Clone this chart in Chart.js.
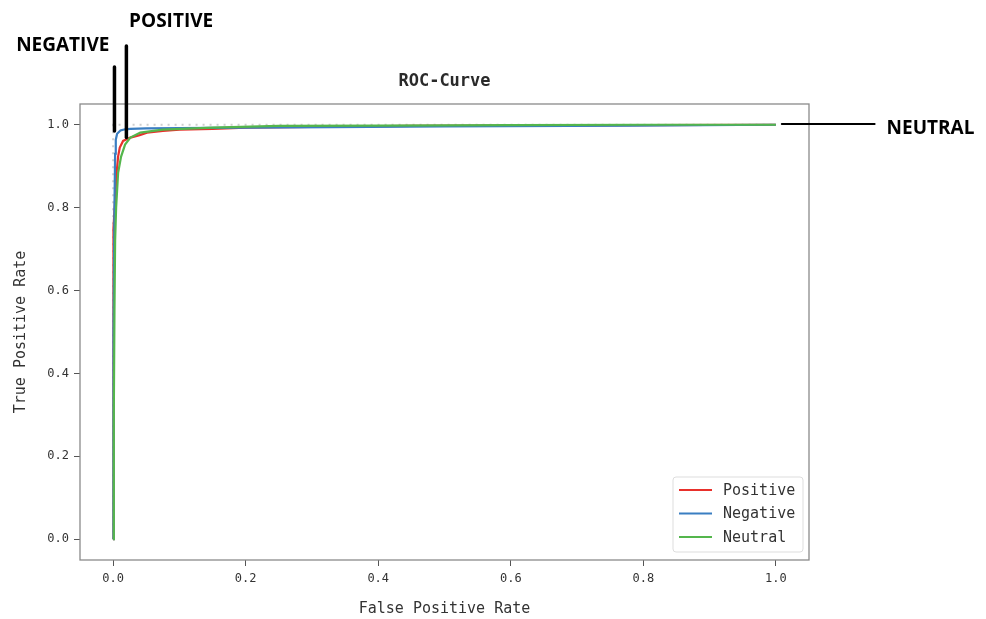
<!DOCTYPE html>
<html>
<head>
<meta charset="utf-8">
<script src="https://cdn.jsdelivr.net/npm/chart.js@4.4.1/dist/chart.umd.min.js"></script>
<style>
html,body{margin:0;padding:0;background:#fff;}
canvas{display:block;}
</style>
</head>
<body>
<canvas id="c" width="986" height="619"></canvas>
<script>
// ---- data ----
const seriesNames = ['Positive', 'Negative', 'Neutral'];
const seriesColors = ['#e8302b', '#3a7ec2', '#54b64c'];

const fprPositive = [0, 0, 0.001, 0.003, 0.005, 0.0075, 0.01, 0.015, 0.026, 0.04, 0.051, 0.075, 0.10, 0.15, 0.2, 0.3, 0.45, 0.6, 0.8, 1.0];
const tprPositive = [0, 0.5, 0.75, 0.82, 0.88, 0.923, 0.945, 0.961, 0.969, 0.975, 0.981, 0.985, 0.988, 0.990, 0.993, 0.995, 0.997, 0.998, 0.999, 1.0];

const fprNegative = [0, 0, 0.001, 0.002, 0.003, 0.004, 0.006, 0.011, 0.018, 0.026, 0.05, 0.1, 0.2, 0.33, 0.5, 0.78, 1.0];
const tprNegative = [0, 0.22, 0.5, 0.8, 0.93, 0.964, 0.978, 0.986, 0.989, 0.990, 0.991, 0.992, 0.993, 0.994, 0.996, 0.998, 1.0];

const fprNeutral = [0, 0.001, 0.002, 0.003, 0.0045, 0.0075, 0.012, 0.018, 0.026, 0.041, 0.075, 0.15, 0.25, 0.4, 0.6, 0.8, 1.0];
const tprNeutral = [0, 0.3, 0.55, 0.72, 0.80, 0.884, 0.923, 0.952, 0.969, 0.981, 0.988, 0.993, 0.997, 0.998, 0.999, 1.0, 1.0];

const fprReference = [0, 0, 1];
const tprReference = [0, 1, 1];

const xTicks = [0.0, 0.2, 0.4, 0.6, 0.8, 1.0];
const yTicks = [0.0, 0.2, 0.4, 0.6, 0.8, 1.0];

const chartTitle = 'ROC-Curve';
const xTitle = 'False Positive Rate';
const yTitle = 'True Positive Rate';

// annotation labels (data coordinates)
const annotLabels = ['NEGATIVE', 'POSITIVE', 'NEUTRAL'];
const annotLabelX = [-0.076, 0.0875, 1.167];
const annotLabelY = [1.19, 1.248, 0.991];
const annotLabelAlign = ['center', 'center', 'left'];
// annotation pointer lines: [x1, y1, x2, y2]
const annotLines = [
  [0.002, 1.139, 0.002, 0.985],
  [0.020, 1.190, 0.020, 0.969],
  [1.009, 1.002, 1.149, 1.002]
];

// ---- build ----
function pts(xs, ys) { return xs.map((x, i) => ({x: x, y: ys[i]})); }
const MONO = '"DejaVu Sans Mono", monospace';

const datasets = [
  {label: seriesNames[0], data: pts(fprPositive, tprPositive), borderColor: seriesColors[0], order: 3},
  {label: seriesNames[1], data: pts(fprNegative, tprNegative), borderColor: seriesColors[1], order: 2},
  {label: seriesNames[2], data: pts(fprNeutral, tprNeutral), borderColor: seriesColors[2], order: 1},
  {label: 'reference', data: pts(fprReference, tprReference), borderColor: '#cfcfcf', borderDash: [2, 5], borderWidth: 2, order: 4}
].map(d => Object.assign({showLine: true, pointRadius: 0, borderWidth: 2.2, fill: false, tension: 0}, d));

const framePlugin = {
  id: 'frame',
  afterDraw(chart) {
    const {ctx, chartArea: a, scales: {x, y}} = chart;
    ctx.save();
    // frame
    ctx.strokeStyle = '#8a8a8a';
    ctx.lineWidth = 1.3;
    ctx.strokeRect(a.left, a.top, a.right - a.left, a.bottom - a.top);

    // title centred over the plot area
    ctx.fillStyle = '#2a2a2a';
    ctx.font = 'bold 17px ' + MONO;
    ctx.textAlign = 'center';
    ctx.textBaseline = 'middle';
    ctx.fillText(chartTitle, (a.left + a.right) / 2, a.top - 22);

    // legend
    const bx = a.right - 136, by = a.bottom - 83, bw = 130, bh = 75;
    ctx.fillStyle = 'rgba(255,255,255,0.9)';
    ctx.strokeStyle = '#dddddd';
    ctx.lineWidth = 1;
    const r = 3;
    ctx.beginPath();
    ctx.moveTo(bx + r, by);
    ctx.arcTo(bx + bw, by, bx + bw, by + bh, r);
    ctx.arcTo(bx + bw, by + bh, bx, by + bh, r);
    ctx.arcTo(bx, by + bh, bx, by, r);
    ctx.arcTo(bx, by, bx + bw, by, r);
    ctx.closePath();
    ctx.fill();
    ctx.stroke();
    ctx.font = '15px ' + MONO;
    ctx.textBaseline = 'middle';
    ctx.textAlign = 'left';
    for (let i = 0; i < 3; i++) {
      const ds = chart.data.datasets[i];
      const ry = by + 13 + i * 23.5;
      ctx.strokeStyle = ds.borderColor;
      ctx.lineWidth = 2;
      ctx.beginPath();
      ctx.moveTo(bx + 6, ry);
      ctx.lineTo(bx + 39, ry);
      ctx.stroke();
      ctx.fillStyle = '#333333';
      ctx.fillText(ds.label, bx + 50, ry + 1);
    }

    // annotations
    ctx.strokeStyle = '#000000';
    ctx.lineCap = 'round';
    annotLines.forEach((l, i) => {
      ctx.lineWidth = i === 2 ? 2 : 3.5;
      ctx.beginPath();
      ctx.moveTo(x.getPixelForValue(l[0]), y.getPixelForValue(l[1]));
      ctx.lineTo(x.getPixelForValue(l[2]), y.getPixelForValue(l[3]));
      ctx.stroke();
    });
    ctx.fillStyle = '#000000';
    ctx.font = 'bold 19px "Open Sans", "Noto Sans", sans-serif';
    annotLabels.forEach((t, i) => {
      ctx.textAlign = annotLabelAlign[i];
      ctx.fillText(t, x.getPixelForValue(annotLabelX[i]), y.getPixelForValue(annotLabelY[i]));
    });
    ctx.restore();
  }
};

new Chart(document.getElementById('c'), {
  type: 'scatter',
  data: {datasets: datasets},
  options: {
    responsive: false,
    animation: false,
    devicePixelRatio: 1,
    layout: {padding: {left: 0, right: 177, top: 104, bottom: 0}},
    plugins: {
      legend: {display: false},
      tooltip: {enabled: false},
      title: {display: false}
    },
    scales: {
      x: {
        type: 'linear',
        min: -0.05, max: 1.05,
        afterBuildTicks: s => { s.ticks = xTicks.map(v => ({value: v})); },
        afterFit: s => { s.height = 59; },
        ticks: {color: '#333333', font: {family: MONO, size: 12}, padding: 6, callback: v => v.toFixed(1), maxRotation: 0},
        grid: {drawOnChartArea: false, drawTicks: true, tickLength: 6, color: '#555555'},
        border: {display: false},
        title: {display: true, text: xTitle, color: '#333333', font: {family: MONO, size: 15}, padding: {top: 0, bottom: 1}}
      },
      y: {
        type: 'linear',
        min: -0.05, max: 1.05,
        afterBuildTicks: s => { s.ticks = yTicks.map(v => ({value: v})); },
        afterFit: s => { s.width = 80; },
        ticks: {color: '#333333', font: {family: MONO, size: 12}, padding: 5, callback: v => v.toFixed(1)},
        grid: {drawOnChartArea: false, drawTicks: true, tickLength: 6, color: '#555555'},
        border: {display: false},
        title: {display: true, text: yTitle, color: '#333333', font: {family: MONO, size: 15}, padding: {top: 12, bottom: 0}}
      }
    }
  },
  plugins: [framePlugin]
});
</script>
</body>
</html>
